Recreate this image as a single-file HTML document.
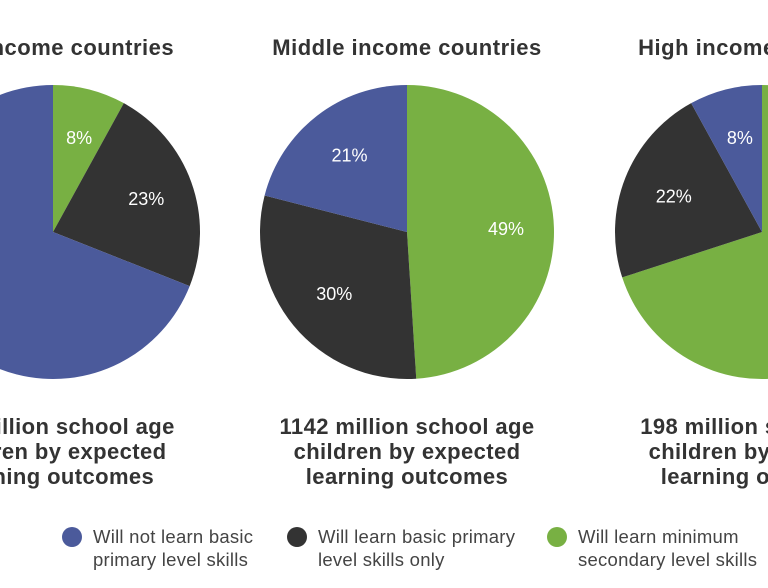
<!DOCTYPE html>
<html><head><meta charset="utf-8"><style>
html,body{margin:0;padding:0;background:#fff;}
svg{display:block;font-family:"Liberation Sans",sans-serif;}
</style></head><body>
<svg id="chart" width="768" height="588" viewBox="0 0 768 588">
<g id="pies"></g>
<g id="texts" fill="#333" font-weight="bold" text-anchor="middle">
</g>
<g id="legend"></g>
</svg>
<script>
const groups = ["Low income countries","Middle income countries","High income countries"];
const totals = ["250","1142","198"];
const greenValues = [8,49,70];
const darkValues = [23,30,22];
const blueValues = [69,21,8];
const legendLabels = [["Will not learn basic","primary level skills"],["Will learn basic primary","level skills only"],["Will learn minimum","secondary level skills"]];
const colors = {green:"#78b043", dark:"#333333", blue:"#4b5a9b"};
const NS = "http://www.w3.org/2000/svg";
const centersX = [53,407,762], cy = 232, R = 147;
function pt(cx, frac, r){ const a = frac*2*Math.PI; return [cx + r*Math.sin(a), cy - r*Math.cos(a)]; }
const pies = document.getElementById('pies');
const texts = document.getElementById('texts');
groups.forEach((g,i)=>{
  const cx = centersX[i];
  const vals = [["green",greenValues[i]],["dark",darkValues[i]],["blue",blueValues[i]]];
  const total = vals.reduce((s,v)=>s+v[1],0);
  let acc = 0;
  vals.forEach(([k,v])=>{
    const f0 = acc/total, f1 = (acc+v)/total; acc += v;
    const p0 = pt(cx,f0,R), p1 = pt(cx,f1,R);
    const large = (f1-f0) > 0.5 ? 1 : 0;
    const path = document.createElementNS(NS,'path');
    path.setAttribute('d',`M${cx},${cy} L${p0[0]},${p0[1]} A${R},${R} 0 ${large} 1 ${p1[0]},${p1[1]} Z`);
    path.setAttribute('fill',colors[k]);
    
    
    pies.appendChild(path);
    const lp = pt(cx,(f0+f1)/2,R*0.66);
    const t = document.createElementNS(NS,'text');
    t.setAttribute('x',lp[0]+2); t.setAttribute('y',lp[1]+6);
    t.setAttribute('fill','#fff'); t.setAttribute('font-size','18'); t.setAttribute('text-anchor','middle');
    t.textContent = v + '%';
    
    
    pies.appendChild(t);
  });
  const title = document.createElementNS(NS,'text');
  title.setAttribute('x',cx); title.setAttribute('y',55);
  title.setAttribute('font-size','22'); title.setAttribute('letter-spacing','0.5');
  title.textContent = g;
  
  
  texts.appendChild(title);
  const lines = [totals[i]+" million school age","children by expected","learning outcomes"];
  lines.forEach((l,j)=>{
    const t = document.createElementNS(NS,'text');
    t.setAttribute('x',cx); t.setAttribute('y',434+j*25);
    t.setAttribute('font-size','22'); t.setAttribute('letter-spacing','0.4');
    t.textContent = l;
    
    
    texts.appendChild(t);
  });
});
const legend = document.getElementById('legend');
const legX = [72,297,557];
const legColors = [colors.blue, colors.dark, colors.green];
legendLabels.forEach((ls,i)=>{
  const c = document.createElementNS(NS,'circle');
  c.setAttribute('cx',legX[i]); c.setAttribute('cy',537); c.setAttribute('r',10);
  c.setAttribute('fill',legColors[i]);
  
  
  legend.appendChild(c);
  ls.forEach((l,j)=>{
    const t = document.createElementNS(NS,'text');
    t.setAttribute('x',legX[i]+21); t.setAttribute('y',543+j*23);
    t.setAttribute('font-size','18.5'); t.setAttribute('letter-spacing','0.25'); t.setAttribute('fill','#444');
    t.textContent = l;
    
    
    legend.appendChild(t);
  });
});
</script>
</body></html>
